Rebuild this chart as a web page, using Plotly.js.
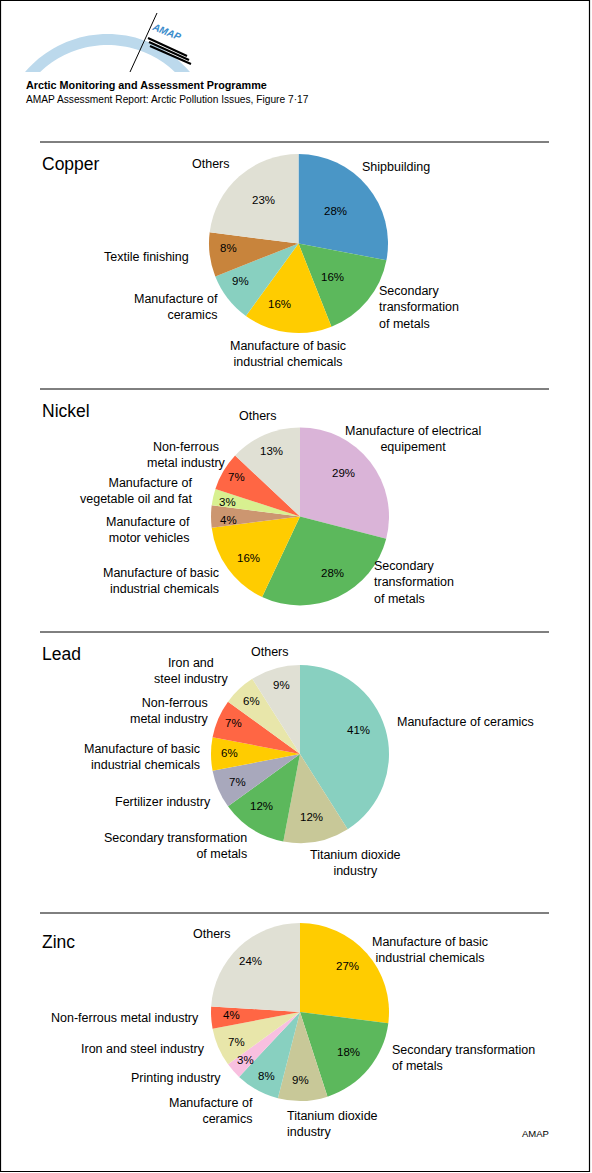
<!DOCTYPE html>
<html>
<head>
<meta charset="utf-8">
<script src="https://cdn.plot.ly/plotly-3.0.1.min.js"></script>
<style>
  html, body { margin: 0; padding: 0; background: #ffffff; }
  #chart { width: 592px; height: 1173px; }
</style>
</head>
<body>
<div id="chart"></div>
<script>
// ---------------- DATA ----------------
const copperCats = ["Shipbuilding", "Secondary<br>transformation<br>of metals", "Manufacture of basic<br>industrial chemicals", "Manufacture of<br>ceramics", "Textile finishing", "Others"];
const copperVals = [28, 16, 16, 9, 8, 23];

const nickelCats = ["Manufacture of electrical<br>equipement", "Secondary<br>transformation<br>of metals", "Manufacture of basic<br>industrial chemicals", "Manufacture of<br>motor vehicles", "Manufacture of<br>vegetable oil and fat", "Non-ferrous<br>metal industry", "Others"];
const nickelVals = [29, 28, 16, 4, 3, 7, 13];

const leadCats = ["Manufacture of ceramics", "Titanium dioxide<br>industry", "Secondary transformation<br>of metals", "Fertilizer industry", "Manufacture of basic<br>industrial chemicals", "Non-ferrous<br>metal industry", "Iron and<br>steel industry", "Others"];
const leadVals = [41, 12, 12, 7, 6, 7, 6, 9];

const zincCats = ["Manufacture of basic<br>industrial chemicals", "Secondary transformation<br>of metals", "Titanium dioxide<br>industry", "Manufacture of<br>ceramics", "Printing industry", "Iron and steel industry", "Non-ferrous metal industry", "Others"];
const zincVals = [27, 18, 9, 8, 3, 7, 4, 24];

const metalTitles = ["Copper", "Nickel", "Lead", "Zinc"];

// ---------------- STYLE ----------------
const colorMap = {
  "Shipbuilding": "#4a96c6",
  "Secondary transformation of metals": "#5cb85c",
  "Manufacture of basic industrial chemicals": "#ffcc00",
  "Manufacture of ceramics": "#88d0c0",
  "Textile finishing": "#c8843c",
  "Others": "#e0e0d4",
  "Manufacture of electrical equipement": "#dab4d8",
  "Manufacture of motor vehicles": "#cc9670",
  "Manufacture of vegetable oil and fat": "#d8f090",
  "Non-ferrous metal industry": "#ff6644",
  "Titanium dioxide industry": "#c8c898",
  "Fertilizer industry": "#a8a8bc",
  "Iron and steel industry": "#e8e6aa",
  "Printing industry": "#f8c0e0"
};

const W = 592, H = 1173;
const FONT = "Liberation Sans, Arial, Helvetica, sans-serif";
const X = px => px / W;
const Y = py => 1 - py / H;

// placement of each pie block (pixels): centre, radius, title, rule, label and percent positions
const blocks = [
  { cats: copperCats, vals: copperVals, cx: 298.5, cy: 243.5, r: 89.5, ruleY: 142, titleY: 164,
    labels: [[360,167,"left"],[377,307.5,"left"],[287.5,354,"center"],[220,306.5,"right"],[191,257,"right"],[211,164,"center"]],
    pcts: [[335,211],[332,277],[279,304],[240,281],[228,248],[263,200]] },
  { cats: nickelCats, vals: nickelVals, cx: 300, cy: 516.5, r: 89, ruleY: 389, titleY: 411,
    labels: [[413,439.5,"center"],[372,582.5,"left"],[221,581,"right"],[192,530.5,"right"],[194,491,"right"],[186,454.5,"center"],[258,416,"center"]],
    pcts: [[343,473],[332,573],[248,558],[228,520],[227,502],[236,477],[271,451]] },
  { cats: leadCats, vals: leadVals, cx: 300, cy: 754, r: 89, ruleY: 632, titleY: 654,
    labels: [[395,722,"left"],[355,862.5,"center"],[249,845.5,"right"],[213,802,"right"],[202,756.5,"right"],[211,710.5,"right"],[191,671,"center"],[270,652,"center"]],
    pcts: [[358,730],[312,817],[261,806],[237,782],[229,753],[233,723],[251,701],[281,685]] },
  { cats: zincCats, vals: zincVals, cx: 300, cy: 1012, r: 89, ruleY: 913, titleY: 942,
    labels: [[430,949.5,"center"],[390,1058,"left"],[285,1124,"left"],[255,1110.5,"right"],[223,1078,"right"],[207,1049,"right"],[201,1018,"right"],[212,934,"center"]],
    pcts: [[347,966],[349,1052],[300,1080],[266,1076],[245,1060],[236,1042],[231,1015],[250,961]] }
];

const traces = [];
const annotations = [];
const shapes = [];

blocks.forEach((b, i) => {
  const names = b.cats.map(c => c.replace(/<br>/g, " "));
  traces.push({
    type: "pie",
    labels: names,
    values: b.vals,
    sort: false,
    direction: "clockwise",
    rotation: 0,
    textinfo: "none",
    hoverinfo: "skip",
    showlegend: false,
    marker: { colors: names.map(n => colorMap[n]), line: { width: 0 } },
    domain: { x: [X(b.cx - b.r), X(b.cx + b.r)], y: [Y(b.cy + b.r), Y(b.cy - b.r)] }
  });
  const total = b.vals.reduce((a, v) => a + v, 0);
  b.cats.forEach((c, j) => {
    const L = b.labels[j];
    annotations.push({
      xref: "paper", yref: "paper", x: X(L[0]), y: Y(L[1]),
      xanchor: L[2], yanchor: "middle", align: L[2] === "right" ? "right" : (L[2] === "left" ? "left" : "center"),
      text: c, showarrow: false, font: { family: FONT, size: 12.5, color: "#000" }
    });
    const P = b.pcts[j];
    annotations.push({
      xref: "paper", yref: "paper", x: X(P[0]), y: Y(P[1]),
      xanchor: "center", yanchor: "middle",
      text: Math.round(b.vals[j] / total * 100) + "%", showarrow: false,
      font: { family: FONT, size: 11.5, color: "#000" }
    });
  });
  // metal title
  annotations.push({
    xref: "paper", yref: "paper", x: X(40), y: Y(b.titleY), xanchor: "left", yanchor: "middle",
    text: metalTitles[i], showarrow: false, font: { family: FONT, size: 17.5, color: "#000" }
  });
  // rule
  shapes.push({ type: "line", xref: "paper", yref: "paper", x0: X(40), x1: X(549), y0: Y(b.ruleY), y1: Y(b.ruleY),
    line: { color: "#000", width: 1 } });
});

// header texts
annotations.push({ xref: "paper", yref: "paper", x: X(24), y: Y(85.5), xanchor: "left", yanchor: "middle",
  text: "<b>Arctic Monitoring and Assessment Programme</b>", showarrow: false, font: { family: FONT, size: 10.8, color: "#000" } });
annotations.push({ xref: "paper", yref: "paper", x: X(24), y: Y(99.5), xanchor: "left", yanchor: "middle",
  text: "AMAP Assessment Report: Arctic Pollution Issues, Figure 7·17", showarrow: false, font: { family: FONT, size: 10.2, color: "#000" } });
// footer
annotations.push({ xref: "paper", yref: "paper", x: X(535.5), y: Y(1133), xanchor: "center", yanchor: "middle",
  text: "AMAP", showarrow: false, font: { family: FONT, size: 9.5, color: "#000" } });

// logo: light blue arc band
(function () {
  const cx = 107.5, cy = 142.5, Ro = 108.5, Ri = 97.5, cut = 72;
  const po = Math.acos((cy - cut) / Ro), pi = Math.acos((cy - cut) / Ri);
  let d = "";
  const n = 40;
  for (let k = 0; k <= n; k++) {
    const a = -po + 2 * po * k / n;
    d += (k === 0 ? "M" : "L") + X(cx + Ro * Math.sin(a)).toFixed(5) + "," + Y(cy - Ro * Math.cos(a)).toFixed(5);
  }
  for (let k = 0; k <= n; k++) {
    const a = pi - 2 * pi * k / n;
    d += "L" + X(cx + Ri * Math.sin(a)).toFixed(5) + "," + Y(cy - Ri * Math.cos(a)).toFixed(5);
  }
  d += "Z";
  shapes.push({ type: "path", xref: "paper", yref: "paper", path: d, fillcolor: "#bcd9ec", line: { width: 0 }, layer: "below" });
})();
// logo: black diagonal
shapes.push({ type: "line", xref: "paper", yref: "paper", x0: X(157), y0: Y(13), x1: X(130), y1: Y(72), line: { color: "#000", width: 1 } });
// logo: small black bars
[0, 1, 2].forEach(k => {
  shapes.push({ type: "line", xref: "paper", yref: "paper", x0: X(148 + k), y0: Y(38 + k * 4), x1: X(187 + k * 2), y1: Y(56 + k * 4),
    line: { color: "#000", width: 2 } });
});
annotations.push({ xref: "paper", yref: "paper", x: X(166), y: Y(32), xanchor: "center", yanchor: "middle", textangle: 22,
  text: "<i><b>AMAP</b></i>", showarrow: false, font: { family: FONT, size: 10, color: "#3a8ccc" } });

// outer frame
shapes.push({ type: "rect", xref: "paper", yref: "paper", x0: X(0.5), x1: X(589.5), y0: Y(1171.5), y1: Y(0.5),
  line: { color: "#000", width: 1.2 } });

const layout = {
  width: W, height: H,
  margin: { l: 0, r: 0, t: 0, b: 0, pad: 0 },
  paper_bgcolor: "#ffffff",
  showlegend: false,
  annotations: annotations,
  shapes: shapes,
  font: { family: FONT }
};

Plotly.newPlot("chart", traces, layout, { staticPlot: true, displayModeBar: false });
</script>
</body>
</html>
